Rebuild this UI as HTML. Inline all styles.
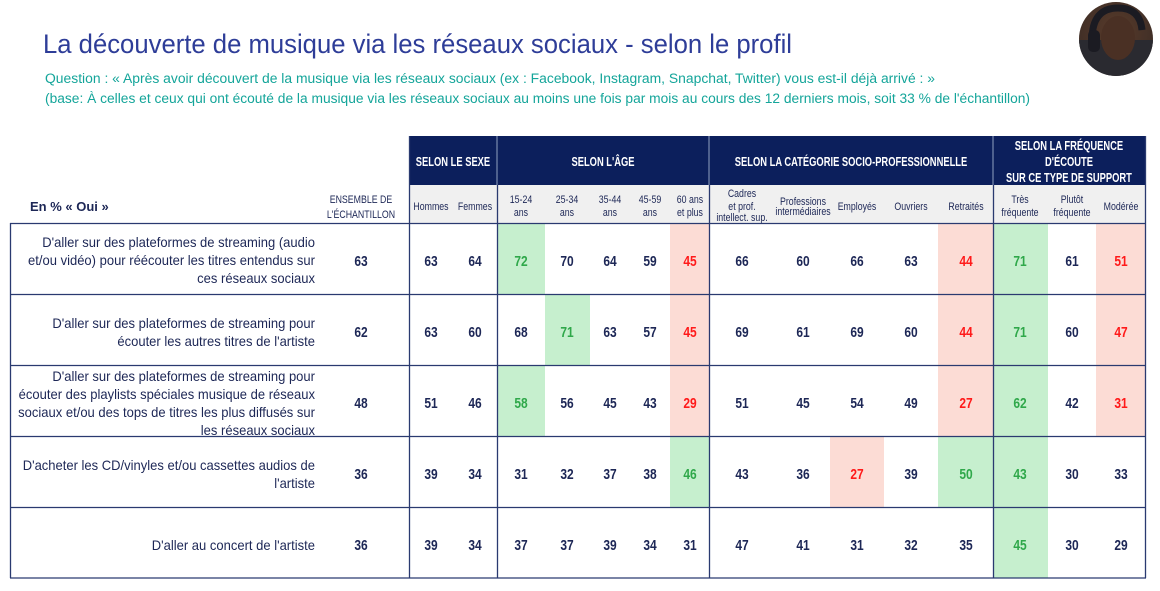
<!DOCTYPE html>
<html><head><meta charset="utf-8"><style>
html,body{margin:0;padding:0;background:#fff;}
svg{display:block;}
text{font-family:"Liberation Sans Narrow","Liberation Sans",sans-serif;}
.n{font-size:15px;font-weight:bold;fill:#1d2756;text-anchor:middle;}
.g{fill:#2fa84a;}
.r{fill:#ff1a1a;}
.l{font-size:14px;fill:#1d2756;text-anchor:end;}
.h{font-size:12.5px;fill:#fff;font-weight:bold;text-anchor:middle;}
.s{font-size:11px;fill:#1d2756;text-anchor:middle;}
</style></head><body>
<svg width="1160" height="591" viewBox="0 0 1160 591" xmlns="http://www.w3.org/2000/svg">
<defs>
<radialGradient id="ph" cx="0.5" cy="0.4" r="0.6"><stop offset="0" stop-color="#5a3b2a"/><stop offset="1" stop-color="#3a2c26"/></radialGradient>
<clipPath id="cc"><circle cx="1116" cy="39" r="37"/></clipPath>
</defs>
<text x="43" y="53" font-size="27" fill="#2e3d98" textLength="749" lengthAdjust="spacingAndGlyphs">La découverte de musique via les réseaux sociaux - selon le profil</text>
<text x="45" y="83" font-size="13.5" fill="#14a59a" textLength="890" lengthAdjust="spacingAndGlyphs">Question : « Après avoir découvert de la musique via les réseaux sociaux (ex : Facebook, Instagram, Snapchat, Twitter) vous est-il déjà arrivé : »</text>
<text x="45" y="103" font-size="13.5" fill="#14a59a" textLength="985" lengthAdjust="spacingAndGlyphs">(base: À celles et ceux qui ont écouté de la musique via les réseaux sociaux au moins une fois par mois au cours des 12 derniers mois, soit 33 % de l'échantillon)</text>
<g clip-path="url(#cc)">
<rect x="1076" y="0" width="80" height="80" fill="url(#ph)"/>
<rect x="1076" y="40" width="80" height="40" fill="#2a2a30"/>
<ellipse cx="1118" cy="38" rx="17" ry="22" fill="#4a3024"/>
<path d="M1092 40 Q1092 8 1118 8 Q1140 8 1142 30" stroke="#1b1b22" stroke-width="7" fill="none"/>
<rect x="1088" y="30" width="12" height="22" rx="5" fill="#1b1b22"/>
</g>
<!-- header -->
<rect x="409" y="136" width="736" height="49" fill="#0c1f5c"/>
<rect x="409" y="185" width="736" height="38" fill="#f0f0f0"/>
<g stroke="#8fa0c0" stroke-width="1">
<line x1="497" y1="136" x2="497" y2="185"/><line x1="709" y1="136" x2="709" y2="185"/><line x1="993" y1="136" x2="993" y2="185"/>
</g>
<g transform="scale(0.75,1)">
<text class="h" x="604" y="166">SELON LE SEXE</text>
<text class="h" x="804" y="166" font-weight="normal">SELON L'ÂGE</text>
<text class="h" x="1134.7" y="166">SELON LA CATÉGORIE SOCIO-PROFESSIONNELLE</text>
<text class="h" x="1425.3" y="150">SELON LA FRÉQUENCE</text>
<text class="h" x="1425.3" y="166" font-weight="normal">D'ÉCOUTE</text>
<text class="h" x="1425.3" y="182" font-size="11.5">SUR CE TYPE DE SUPPORT</text>
</g>
<text x="30" y="211" font-size="13" font-weight="bold" fill="#1d2756">En % « Oui »</text>
<g transform="scale(0.8,1)">
<text class="s" x="451.25" y="203" font-size="12.5">ENSEMBLE DE</text>
<text class="s" x="451.25" y="218" font-size="12.5">L'ÉCHANTILLON</text>
<text class="s" x="538.75" y="210">Hommes</text><text class="s" x="593.75" y="210">Femmes</text>
<text class="s" x="651.25" y="203">15-24</text><text class="s" x="651.25" y="216">ans</text>
<text class="s" x="708.75" y="203">25-34</text><text class="s" x="708.75" y="216">ans</text>
<text class="s" x="762.5" y="203">35-44</text><text class="s" x="762.5" y="216">ans</text>
<text class="s" x="812.5" y="203">45-59</text><text class="s" x="812.5" y="216">ans</text>
<text class="s" x="862.5" y="203">60 ans</text><text class="s" x="862.5" y="216">et plus</text>
<text class="s" x="927.5" y="197">Cadres</text><text class="s" x="927.5" y="210">et prof.</text><text class="s" x="927.5" y="221" font-size="7.5">intellect. sup.</text>
<text class="s" x="1003.75" y="205">Professions</text><text class="s" x="1003.75" y="215" font-size="8">intermédiaires</text>
<text class="s" x="1071.25" y="210">Employés</text><text class="s" x="1138.75" y="210">Ouvriers</text><text class="s" x="1207.5" y="210">Retraités</text>
<text class="s" x="1275" y="203">Très</text><text class="s" x="1275" y="216">fréquente</text>
<text class="s" x="1340" y="203">Plutôt</text><text class="s" x="1340" y="216">fréquente</text>
<text class="s" x="1401.25" y="210">Modérée</text>
</g>
<!-- highlights -->
<g fill="#c6efce">
<rect x="497" y="224" width="48" height="70"/><rect x="993" y="224" width="55" height="70"/>
<rect x="545" y="295" width="45" height="70"/><rect x="993" y="295" width="55" height="70"/>
<rect x="497" y="366" width="48" height="70"/><rect x="993" y="366" width="55" height="70"/>
<rect x="670" y="437" width="39" height="70"/><rect x="938" y="437" width="55" height="70"/><rect x="993" y="437" width="55" height="70"/>
<rect x="993" y="508" width="55" height="70"/>
</g>
<g fill="#fcdcd5">
<rect x="670" y="224" width="39" height="70"/><rect x="938" y="224" width="55" height="70"/><rect x="1096" y="224" width="49" height="70"/>
<rect x="670" y="295" width="39" height="70"/><rect x="938" y="295" width="55" height="70"/><rect x="1096" y="295" width="49" height="70"/>
<rect x="670" y="366" width="39" height="70"/><rect x="938" y="366" width="55" height="70"/><rect x="1096" y="366" width="49" height="70"/>
<rect x="830" y="437" width="54" height="70"/>
</g>
<!-- grid -->
<g stroke="#2a3a70" stroke-width="1.3">
<line x1="10" y1="223.5" x2="1146" y2="223.5"/>
<line x1="10" y1="294.5" x2="1146" y2="294.5"/>
<line x1="10" y1="365.5" x2="1146" y2="365.5"/>
<line x1="10" y1="436.5" x2="1146" y2="436.5"/>
<line x1="10" y1="507.5" x2="1146" y2="507.5"/>
<line x1="10" y1="578" x2="1146" y2="578"/>
<line x1="10.5" y1="223" x2="10.5" y2="578"/>
<line x1="409.5" y1="136" x2="409.5" y2="578"/>
<line x1="497.5" y1="185" x2="497.5" y2="578"/>
<line x1="709.5" y1="185" x2="709.5" y2="578"/>
<line x1="993.5" y1="185" x2="993.5" y2="578"/>
<line x1="1145.5" y1="136" x2="1145.5" y2="578"/>
</g>
<!-- labels -->
<g transform="scale(0.93,1)">
<text class="l" x="338.7" y="247">D'aller sur des plateformes de streaming (audio</text>
<text class="l" x="338.7" y="265">et/ou vidéo) pour réécouter les titres entendus sur</text>
<text class="l" x="338.7" y="283">ces réseaux sociaux</text>
<text class="l" x="338.7" y="328">D'aller sur des plateformes de streaming pour</text>
<text class="l" x="338.7" y="346">écouter les autres titres de l'artiste</text>
<text class="l" x="338.7" y="381">D'aller sur des plateformes de streaming pour</text>
<text class="l" x="338.7" y="399">écouter des playlists spéciales musique de réseaux</text>
<text class="l" x="338.7" y="417">sociaux et/ou des tops de titres les plus diffusés sur</text>
<text class="l" x="338.7" y="435">les réseaux sociaux</text>
<text class="l" x="338.7" y="470">D'acheter les CD/vinyles et/ou cassettes audios de</text>
<text class="l" x="338.7" y="488">l'artiste</text>
<text class="l" x="338.7" y="550">D'aller au concert de l'artiste</text>
</g>
<!-- numbers -->
<g transform="scale(0.8,1)">
<text class="n" x="451.25" y="266">63</text><text class="n" x="538.75" y="266">63</text><text class="n" x="593.75" y="266">64</text><text class="n g" x="651.25" y="266">72</text><text class="n" x="708.75" y="266">70</text><text class="n" x="762.5" y="266">64</text><text class="n" x="812.5" y="266">59</text><text class="n r" x="862.5" y="266">45</text><text class="n" x="927.5" y="266">66</text><text class="n" x="1003.75" y="266">60</text><text class="n" x="1071.25" y="266">66</text><text class="n" x="1138.75" y="266">63</text><text class="n r" x="1207.5" y="266">44</text><text class="n g" x="1275" y="266">71</text><text class="n" x="1340" y="266">61</text><text class="n r" x="1401.25" y="266">51</text>
<text class="n" x="451.25" y="337">62</text><text class="n" x="538.75" y="337">63</text><text class="n" x="593.75" y="337">60</text><text class="n" x="651.25" y="337">68</text><text class="n g" x="708.75" y="337">71</text><text class="n" x="762.5" y="337">63</text><text class="n" x="812.5" y="337">57</text><text class="n r" x="862.5" y="337">45</text><text class="n" x="927.5" y="337">69</text><text class="n" x="1003.75" y="337">61</text><text class="n" x="1071.25" y="337">69</text><text class="n" x="1138.75" y="337">60</text><text class="n r" x="1207.5" y="337">44</text><text class="n g" x="1275" y="337">71</text><text class="n" x="1340" y="337">60</text><text class="n r" x="1401.25" y="337">47</text>
<text class="n" x="451.25" y="408">48</text><text class="n" x="538.75" y="408">51</text><text class="n" x="593.75" y="408">46</text><text class="n g" x="651.25" y="408">58</text><text class="n" x="708.75" y="408">56</text><text class="n" x="762.5" y="408">45</text><text class="n" x="812.5" y="408">43</text><text class="n r" x="862.5" y="408">29</text><text class="n" x="927.5" y="408">51</text><text class="n" x="1003.75" y="408">45</text><text class="n" x="1071.25" y="408">54</text><text class="n" x="1138.75" y="408">49</text><text class="n r" x="1207.5" y="408">27</text><text class="n g" x="1275" y="408">62</text><text class="n" x="1340" y="408">42</text><text class="n r" x="1401.25" y="408">31</text>
<text class="n" x="451.25" y="479">36</text><text class="n" x="538.75" y="479">39</text><text class="n" x="593.75" y="479">34</text><text class="n" x="651.25" y="479">31</text><text class="n" x="708.75" y="479">32</text><text class="n" x="762.5" y="479">37</text><text class="n" x="812.5" y="479">38</text><text class="n g" x="862.5" y="479">46</text><text class="n" x="927.5" y="479">43</text><text class="n" x="1003.75" y="479">36</text><text class="n r" x="1071.25" y="479">27</text><text class="n" x="1138.75" y="479">39</text><text class="n g" x="1207.5" y="479">50</text><text class="n g" x="1275" y="479">43</text><text class="n" x="1340" y="479">30</text><text class="n" x="1401.25" y="479">33</text>
<text class="n" x="451.25" y="550">36</text><text class="n" x="538.75" y="550">39</text><text class="n" x="593.75" y="550">34</text><text class="n" x="651.25" y="550">37</text><text class="n" x="708.75" y="550">37</text><text class="n" x="762.5" y="550">39</text><text class="n" x="812.5" y="550">34</text><text class="n" x="862.5" y="550">31</text><text class="n" x="927.5" y="550">47</text><text class="n" x="1003.75" y="550">41</text><text class="n" x="1071.25" y="550">31</text><text class="n" x="1138.75" y="550">32</text><text class="n" x="1207.5" y="550">35</text><text class="n g" x="1275" y="550">45</text><text class="n" x="1340" y="550">30</text><text class="n" x="1401.25" y="550">29</text>
</g>
</svg>
</body></html>
